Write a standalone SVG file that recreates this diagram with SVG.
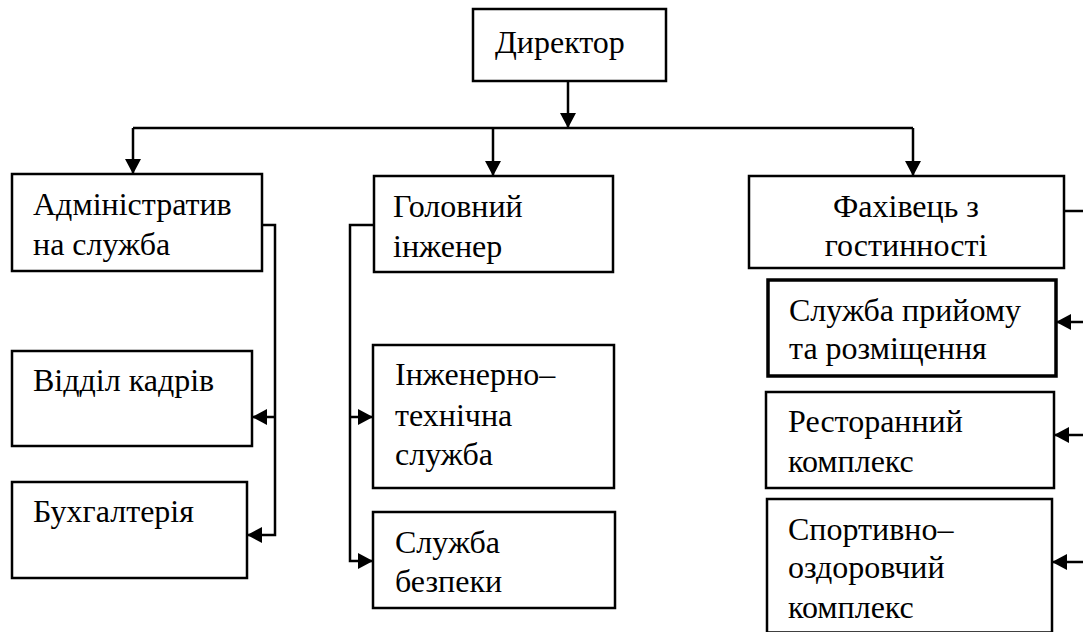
<svg xmlns="http://www.w3.org/2000/svg" width="1083" height="632" viewBox="0 0 1083 632">
<defs>
<marker id="ah" viewBox="0 0 15 16" refX="15" refY="8" markerWidth="15" markerHeight="16" markerUnits="userSpaceOnUse" orient="auto">
<path d="M0,0 L15,8 L0,16 z" fill="#000"/>
</marker>
<style>
.box{fill:#fff;stroke:#000;stroke-width:2.5}
.thick{stroke-width:3.5}
.t{font-size:32px;fill:#000;font-family:"Liberation Serif","Times New Roman",serif}
.c{text-anchor:middle}
.ln{fill:none;stroke:#000;stroke-width:2.5}
.ar{marker-end:url(#ah)}
</style>
</defs>
<rect width="1083" height="632" fill="#fff"/>
<g id="connectors">
<path class="ln ar" d="M568,81 V128"/>
<path class="ln" d="M133,128 H913"/>
<path class="ln ar" d="M133,128 V174"/>
<path class="ln ar" d="M493,128 V176"/>
<path class="ln ar" d="M913,128 V176"/>
<path class="ln ar" d="M262,225 H275 V535 H247"/>
<path class="ln ar" d="M275,417 H252"/>
<path class="ln ar" d="M373,225 H350 V561 H373"/>
<path class="ln ar" d="M350,417 H373"/>
<path class="ln" d="M1064,211 H1083"/>
<path class="ln ar" d="M1083,322 H1056"/>
<path class="ln ar" d="M1083,435 H1054"/>
<path class="ln ar" d="M1083,562 H1052"/>
</g>
<g id="director">
<rect class="box" x="473" y="9" width="193" height="72"/>
<text class="t" x="495" y="53">Директор</text>
</g>
<g id="admin">
<rect class="box" x="12" y="174" width="250" height="97"/>
<text class="t" x="33" y="215">Адміністратив</text>
<text class="t" x="33" y="255">на служба</text>
</g>
<g id="chief-engineer">
<rect class="box" x="374" y="176" width="239" height="96"/>
<text class="t" x="393" y="217">Головний</text>
<text class="t" x="393" y="257">інженер</text>
</g>
<g id="hospitality">
<rect class="box" x="749" y="176" width="315" height="92"/>
<text class="t c" x="906" y="217">Фахівець з</text>
<text class="t c" x="906" y="256">гостинності</text>
</g>
<g id="hr">
<rect class="box" x="12" y="351" width="240" height="95"/>
<text class="t" x="33" y="391">Відділ кадрів</text>
</g>
<g id="accounting">
<rect class="box" x="12" y="482" width="235" height="96"/>
<text class="t" x="33" y="522">Бухгалтерія</text>
</g>
<g id="engineering">
<rect class="box" x="373" y="345" width="241" height="143"/>
<text class="t" x="395" y="385">Інженерно–</text>
<text class="t" x="395" y="426">технічна</text>
<text class="t" x="395" y="465">служба</text>
</g>
<g id="security">
<rect class="box" x="373" y="512" width="242" height="96"/>
<text class="t" x="395" y="553">Служба</text>
<text class="t" x="395" y="592">безпеки</text>
</g>
<g id="reception">
<rect class="box thick" x="768" y="280" width="288" height="96"/>
<text class="t" x="789" y="321">Служба прийому</text>
<text class="t" x="789" y="359">та розміщення</text>
</g>
<g id="restaurant">
<rect class="box" x="766" y="392" width="288" height="96"/>
<text class="t" x="788" y="432">Ресторанний</text>
<text class="t" x="788" y="472">комплекс</text>
</g>
<g id="sports">
<rect class="box" x="767" y="499" width="285" height="133.5"/>
<text class="t" x="788" y="540">Спортивно–</text>
<text class="t" x="788" y="578">оздоровчий</text>
<text class="t" x="788" y="618">комплекс</text>
</g>
</svg>
